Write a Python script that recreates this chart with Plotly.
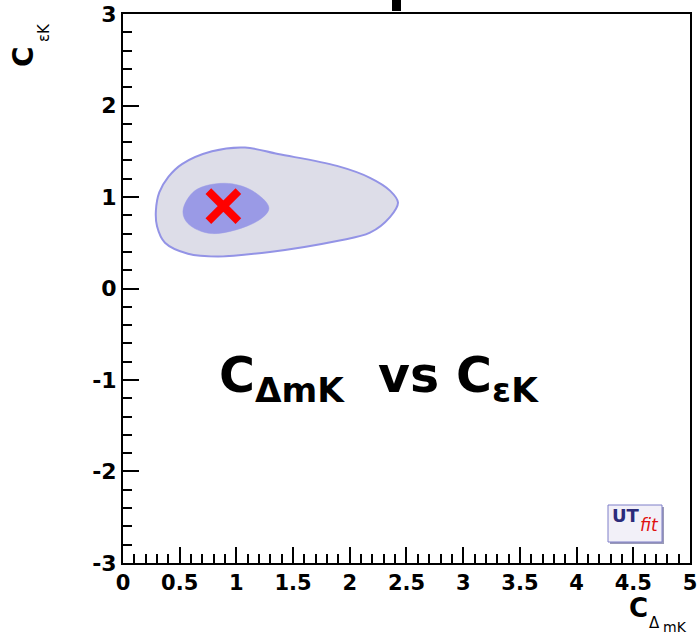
import plotly.graph_objects as go

# Outer (95% prob.) contour outline (C_DeltamK, C_epsK)
outer_x = [0.29, 0.32, 0.40, 0.52, 0.785, 1.076, 1.367, 1.887, 2.178, 2.354, 2.425,
           2.354, 2.178, 1.887, 1.296, 0.838, 0.573, 0.370, 0.30]
outer_y = [0.85, 1.05, 1.22, 1.36, 1.50, 1.54, 1.47, 1.34, 1.21, 1.07, 0.94,
           0.78, 0.61, 0.52, 0.40, 0.35, 0.38, 0.50, 0.68]

# Inner (68% prob.) contour outline
inner_x = [0.529, 0.635, 0.899, 1.138, 1.287, 1.19, 0.785, 0.573]
inner_y = [0.85, 1.07, 1.15, 1.07, 0.88, 0.74, 0.60, 0.71]

# Best-fit point
best_x = [0.885]
best_y = [0.90]

x_ticks = [0, 0.5, 1, 1.5, 2, 2.5, 3, 3.5, 4, 4.5, 5]
x_ticklabels = ["0", "0.5", "1", "1.5", "2", "2.5", "3", "3.5", "4", "4.5", "5"]
y_ticks = [-3, -2, -1, 0, 1, 2, 3]
y_ticklabels = ["-3", "-2", "-1", "0", "1", "2", "3"]

FONT = "DejaVu Sans, Liberation Sans, Arial, sans-serif"

fig = go.Figure()
fig.add_trace(go.Scatter(
    x=outer_x + outer_x[:1], y=outer_y + outer_y[:1], mode="lines",
    line=dict(color="#9393e6", width=2, shape="spline", smoothing=1.0),
    fill="toself", fillcolor="#dddde8", hoverinfo="skip", showlegend=False))
fig.add_trace(go.Scatter(
    x=inner_x + inner_x[:1], y=inner_y + inner_y[:1], mode="lines",
    line=dict(color="#9a9ae6", width=0.5, shape="spline", smoothing=1.0),
    fill="toself", fillcolor="#9a9ae6", hoverinfo="skip", showlegend=False))
fig.add_trace(go.Scatter(
    x=best_x, y=best_y, mode="markers",
    marker=dict(symbol="x-thin", size=30, line=dict(color="#ff0000", width=8)),
    hoverinfo="skip", showlegend=False))

L, R, T, B = 123, 10, 14, 73
W, H = 700, 636
pw, ph = W - L - R, H - T - B

def px(xp):
    return (xp - L) / pw

def py(yp):
    return (H - B - yp) / ph

axis_common = dict(
    showgrid=False, zeroline=False, showline=True, linecolor="black", linewidth=2,
    mirror=True, ticks="inside", ticklen=16, tickwidth=1.5, tickcolor="black",
    automargin=False,
)

fig.update_layout(
    width=W, height=H,
    margin=dict(l=L, r=R, t=T, b=B, autoexpand=False),
    paper_bgcolor="white", plot_bgcolor="white",
    xaxis=dict(range=[0, 5.0001], tickvals=x_ticks, ticktext=x_ticklabels,
               tickfont=dict(family=FONT, size=21, color="black", weight="bold"),
               minor=dict(dtick=0.1, ticks="inside", ticklen=9, tickwidth=1.5, tickcolor="black"),
               **axis_common),
    yaxis=dict(range=[-3.0001, 3.0001], tickvals=y_ticks, ticktext=y_ticklabels,
               tickfont=dict(family=FONT, size=22, color="black", weight="bold"),
               minor=dict(dtick=0.2, ticks="inside", ticklen=9, tickwidth=1.5, tickcolor="black"),
               **axis_common),
)

def note(x, y, text, size, bold=False, color="black", angle=0, italic=False, height=None):
    fig.add_annotation(xref="paper", yref="paper", x=px(x), y=py(y),
                       xanchor="center", yanchor="middle",
                       text=text, showarrow=False, textangle=angle,
                       height=height,
                       font=dict(family=FONT, size=size, color=color,
                                 weight="bold" if bold else "normal",
                                 style="italic" if italic else "normal"))

# clipped title fragment at the top
fig.add_shape(type="rect", xref="paper", yref="paper",
              x0=px(392), x1=px(401), y0=py(11), y1=py(-2),
              fillcolor="black", line=dict(width=0))

# UTfit logo
fig.add_shape(type="rect", xref="paper", yref="paper",
              x0=px(610), x1=px(664), y0=py(544), y1=py(507),
              fillcolor="#9a9ab8", line=dict(width=0))
fig.add_shape(type="rect", xref="paper", yref="paper",
              x0=px(608), x1=px(662), y0=py(542), y1=py(505),
              fillcolor="#f2f0f8", line=dict(color="#7f7fc8", width=1))
note(626, 515, "UT", 18, bold=True, color="#2b2b7a")
note(649, 525, "fit", 17, color="#e01010", italic=True)

# centre label
note(379, 379, "C<sub>ΔmK</sub>  vs C<sub>εK</sub>", 49, bold=True)

# x axis title
note(638, 608, "C", 26, bold=True, height=24)
note(654, 623, "Δ", 15)
note(675, 627, "mK", 14)

# y axis title (rotated)
note(23, 57, "C", 28, bold=True, angle=-90)
note(44, 33, "εK", 15, angle=-90)

fig.write_html("out.html")
